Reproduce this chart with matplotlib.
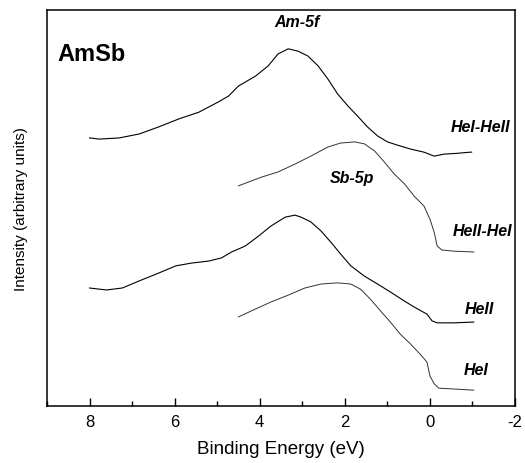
import numpy as np
import matplotlib.pyplot as plt
from matplotlib.ticker import MultipleLocator

plt.rcParams['font.family'] = ['Liberation Sans', 'DejaVu Sans']
plt.rcParams['axes.unicode_minus'] = False

# HeI-HeII difference (Am-5f), top curve
e_a = [8.00, 7.77, 7.30, 6.83, 6.37, 5.90, 5.43, 4.97, 4.73, 4.50, 4.10, 3.80, 3.57,
       3.33, 3.10, 2.87, 2.63, 2.40, 2.17, 1.93, 1.70, 1.47, 1.23, 1.00, 0.77, 0.46,
       0.14, -0.10, -0.33, -0.63, -0.94, -0.98]
i_a = [6.77, 6.74, 6.77, 6.87, 7.05, 7.25, 7.42, 7.68, 7.83, 8.08, 8.33, 8.59, 8.89,
       9.02, 8.96, 8.84, 8.59, 8.26, 7.88, 7.58, 7.32, 7.05, 6.82, 6.67, 6.59, 6.49,
       6.41, 6.31, 6.36, 6.38, 6.41, 6.41]

# HeII-HeI difference (Sb-5p)
e_b = [4.50, 3.96, 3.57, 3.17, 2.80, 2.40, 2.10, 1.77, 1.54, 1.30, 1.07, 0.84, 0.60,
       0.37, 0.14, 0.00, -0.10, -0.17, -0.28, -0.56, -1.03]
i_b = [5.56, 5.78, 5.91, 6.11, 6.31, 6.54, 6.64, 6.67, 6.62, 6.44, 6.16, 5.86, 5.61,
       5.30, 5.05, 4.72, 4.39, 4.04, 3.94, 3.91, 3.89]

# HeII spectrum
e_c = [8.00, 7.60, 7.23, 6.83, 6.37, 5.97, 5.60, 5.20, 4.90, 4.66, 4.34, 4.03, 3.73,
       3.40, 3.17, 3.03, 2.80, 2.56, 2.33, 2.10, 1.86, 1.54, 1.23, 0.93, 0.60, 0.37,
       0.07, -0.05, -0.17, -0.56, -1.03]
i_c = [2.98, 2.93, 2.98, 3.16, 3.36, 3.54, 3.61, 3.66, 3.74, 3.89, 4.04, 4.29, 4.55,
       4.77, 4.82, 4.77, 4.65, 4.42, 4.14, 3.84, 3.54, 3.28, 3.08, 2.88, 2.65, 2.50,
       2.32, 2.15, 2.10, 2.10, 2.12]

# HeI spectrum
e_d = [4.50, 4.10, 3.73, 3.33, 2.94, 2.56, 2.17, 1.86, 1.63, 1.40, 1.16, 0.93, 0.70,
       0.46, 0.23, 0.07, 0.00, -0.10, -0.21, -0.56, -1.03]
i_d = [2.25, 2.45, 2.63, 2.80, 2.98, 3.08, 3.11, 3.08, 2.95, 2.70, 2.40, 2.12, 1.82,
       1.57, 1.31, 1.11, 0.76, 0.56, 0.45, 0.43, 0.40]

fig = plt.figure(figsize=(5.25, 4.64), dpi=100)
ax = fig.add_axes([0.0895, 0.1228, 0.8915, 0.8535])

ax.plot(e_a, i_a, color='black', lw=0.8)
ax.plot(e_b, i_b, color='#333333', lw=0.7)
ax.plot(e_c, i_c, color='black', lw=0.8)
ax.plot(e_d, i_d, color='#333333', lw=0.7)

ax.set_xlim(9, -2)
ax.set_ylim(0, 10)
ax.xaxis.set_major_locator(MultipleLocator(2))
ax.xaxis.set_minor_locator(MultipleLocator(1))
ax.set_yticks([])
ax.tick_params(axis='x', which='major', direction='in', length=6, width=1, labelsize=12, pad=6)
ax.tick_params(axis='x', which='minor', direction='in', length=3.5, width=1)
for s in ax.spines.values():
    s.set_linewidth(1.1)

ax.set_xlabel('Binding Energy (eV)', fontsize=13.5, labelpad=8)
ax.set_ylabel('Intensity (arbitrary units)', fontsize=11, labelpad=14)

ax.text(8.75, 8.9, 'AmSb', fontsize=17, fontweight='bold', va='center')
lab = dict(fontsize=11.5, fontweight='bold', style='italic', va='center')
ax.text(3.12, 9.70, 'Am-5f', ha='center', **lab)
ax.text(1.84, 5.76, 'Sb-5p', ha='center', **lab)
ax.text(-1.89, 7.05, 'HeI-HeII', ha='right', **lab)
ax.text(-1.93, 4.44, 'HeII-HeI', ha='right', **lab)
ax.text(-1.50, 2.47, 'HeII', ha='right', **lab)
ax.text(-1.38, 0.93, 'HeI', ha='right', **lab)

fig.savefig('out.png', dpi=100)
